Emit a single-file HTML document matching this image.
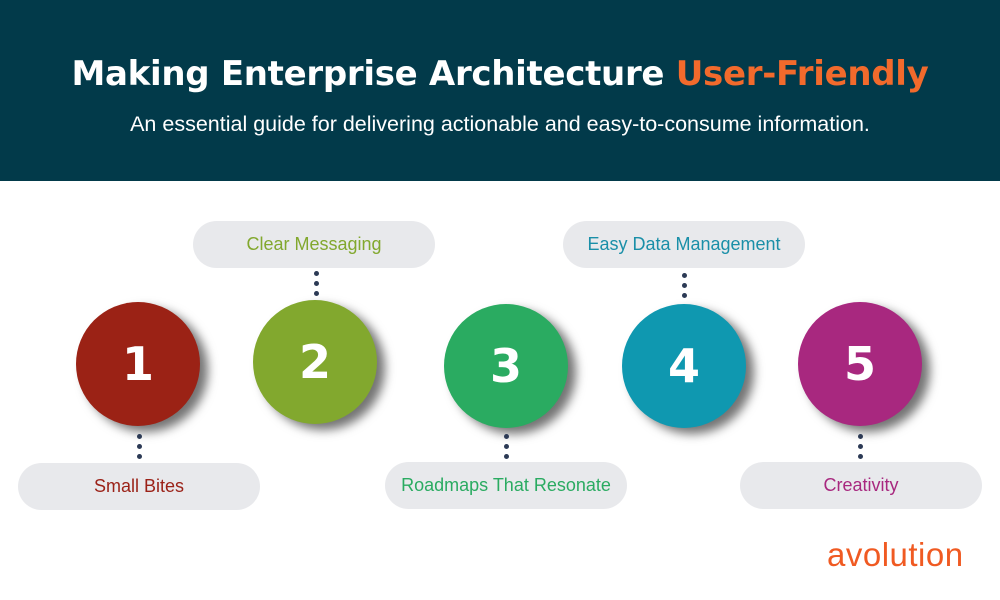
<!DOCTYPE html>
<html><head><style>
body{margin:0;width:1000px;height:600px;background:#fff;position:relative;overflow:hidden;font-family:"DejaVu Sans","Liberation Sans",sans-serif}
.hdr{position:absolute;left:0;top:0;width:1000px;height:181px;background:#023a4a}
.t{position:absolute;left:0;width:1000px;text-align:center;color:#fff}
.pill{position:absolute;width:242px;height:47px;border-radius:24px;background:#e8e9ec;text-align:center;line-height:47px;font-size:18px;font-family:"Liberation Sans",sans-serif}
.c{position:absolute;width:124px;height:124px;border-radius:50%;color:#fff;font-weight:bold;font-size:46px;text-align:center;line-height:124px;box-shadow:8px 6px 10px rgba(0,0,0,.55)}
.d{position:absolute;width:5px;height:5px;border-radius:50%;background:#2c3a55}
</style></head><body>
<div class="hdr"></div>
<div class="t" style="top:54px;font-size:34px;font-weight:bold;letter-spacing:-0.3px">Making Enterprise Architecture <span style="color:#f26a2c">User-Friendly</span></div>
<div class="t" style="top:112px;font-size:21.5px;font-family:'Liberation Sans',sans-serif">An essential guide for delivering actionable and easy-to-consume information.</div>

<div class="pill" style="left:193px;top:221px;color:#82a82e">Clear Messaging</div>
<div class="pill" style="left:563px;top:221px;color:#1a8fa8">Easy Data Management</div>
<div class="pill" style="left:18px;top:463px;color:#9b2218">Small Bites</div>
<div class="pill" style="left:385px;top:462px;color:#2aab61">Roadmaps That Resonate</div>
<div class="pill" style="left:740px;top:462px;color:#a8287f">Creativity</div>

<div class="c" style="left:76px;top:302px;background:#9b2215">1</div>
<div class="c" style="left:253px;top:300px;background:#82a82e">2</div>
<div class="c" style="left:444px;top:304px;background:#2aab61">3</div>
<div class="c" style="left:622px;top:304px;background:#0f98b0">4</div>
<div class="c" style="left:798px;top:302px;background:#a8287f">5</div>

<div class="d" style="left:137px;top:434px"></div><div class="d" style="left:137px;top:444px"></div><div class="d" style="left:137px;top:454px"></div>
<div class="d" style="left:314px;top:271px"></div><div class="d" style="left:314px;top:281px"></div><div class="d" style="left:314px;top:291px"></div>
<div class="d" style="left:504px;top:434px"></div><div class="d" style="left:504px;top:444px"></div><div class="d" style="left:504px;top:454px"></div>
<div class="d" style="left:682px;top:273px"></div><div class="d" style="left:682px;top:283px"></div><div class="d" style="left:682px;top:293px"></div>
<div class="d" style="left:858px;top:434px"></div><div class="d" style="left:858px;top:444px"></div><div class="d" style="left:858px;top:454px"></div>

<div style="position:absolute;left:827px;top:536px;font-size:33px;color:#f05a22;font-family:'Liberation Sans',sans-serif;letter-spacing:0.5px">avolution</div>
</body></html>
